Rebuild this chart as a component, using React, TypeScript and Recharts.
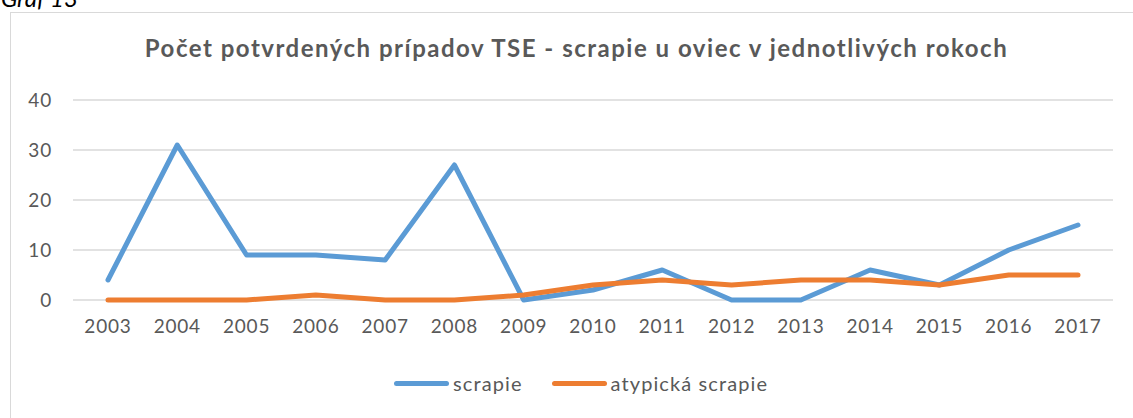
import { LineChart, Line, CartesianGrid, XAxis, YAxis } from "recharts";

const years = ["2003", "2004", "2005", "2006", "2007", "2008", "2009", "2010", "2011", "2012", "2013", "2014", "2015", "2016", "2017"];
const scrapie = [4, 31, 9, 9, 8, 27, 0, 2, 6, 0, 0, 6, 3, 10, 15];
const atypicka = [0, 0, 0, 1, 0, 0, 1, 3, 4, 3, 4, 4, 3, 5, 5];
const yTicks = [0, 10, 20, 30, 40];

const seriesInfo = [
  { key: "scrapie", name: "scrapie", color: "#5B9BD5" },
  { key: "atypicka", name: "atypická scrapie", color: "#ED7D31" },
];

const data = years.map((year, i) => ({
  year,
  scrapie: scrapie[i],
  atypicka: atypicka[i],
}));

const font = "Lato, 'Open Sans', sans-serif";
const textColor = "#595959";
const tickStyle = { fill: textColor, fontSize: 19, fontFamily: font, letterSpacing: 0.8 };

export default function App() {
  return (
    <div style={{ position: "absolute", left: 0, top: 0, width: 1133, height: 418, background: "#fff", overflow: "hidden" }}>
      <div style={{ position: "absolute", left: 1, top: -14, lineHeight: 1, fontFamily: font, fontStyle: "italic", fontSize: 24, color: "#000" }}>
        Graf 13
      </div>
      <div style={{ position: "absolute", left: 10, top: 12, width: 1140, height: 420, border: "1px solid #d9d9d9", boxSizing: "border-box" }} />
      <div style={{ position: "absolute", left: 0, top: 33, width: 1133, textAlign: "center", fontFamily: font, fontWeight: 700, fontSize: 24, letterSpacing: 1.5, color: textColor }}>
        <span style={{ position: "relative", left: 10 }}>Počet potvrdených prípadov TSE - scrapie u oviec v jednotlivých rokoch</span>
      </div>
      <div style={{ position: "absolute", left: 0, top: 0 }}>
        <LineChart width={1133} height={418} data={data} margin={{ top: 100, right: 20, bottom: 88, left: 0 }}>
          <CartesianGrid vertical={false} stroke="#d9d9d9" strokeWidth={1.5} />
          <XAxis
            dataKey="year"
            height={30}
            axisLine={false}
            tickLine={false}
            tickMargin={14}
            interval={0}
            padding={{ left: 35, right: 35 }}
            tick={tickStyle}
          />
          <YAxis
            domain={[0, 40]}
            ticks={yTicks}
            width={73}
            axisLine={false}
            tickLine={false}
            tickMargin={15}
            tick={tickStyle}
          />
          {seriesInfo.map((s) => (
            <Line
              key={s.key}
              type="linear"
              dataKey={s.key}
              name={s.name}
              stroke={s.color}
              strokeWidth={5}
              strokeLinecap="round"
              strokeLinejoin="round"
              dot={false}
              isAnimationActive={false}
            />
          ))}
        </LineChart>
      </div>
      <div style={{ position: "absolute", left: 394, top: 371, display: "flex", alignItems: "center", fontFamily: font, fontSize: 20, letterSpacing: 1.1, color: textColor }}>
        {seriesInfo.map((s, i) => (
          <div key={s.key} style={{ display: "flex", alignItems: "center", marginLeft: i === 0 ? 0 : 29 }}>
            <span style={{ display: "inline-block", width: 55, height: 5, borderRadius: 3, background: s.color, marginRight: 4 }} />
            <span>{s.name}</span>
          </div>
        ))}
      </div>
    </div>
  );
}
